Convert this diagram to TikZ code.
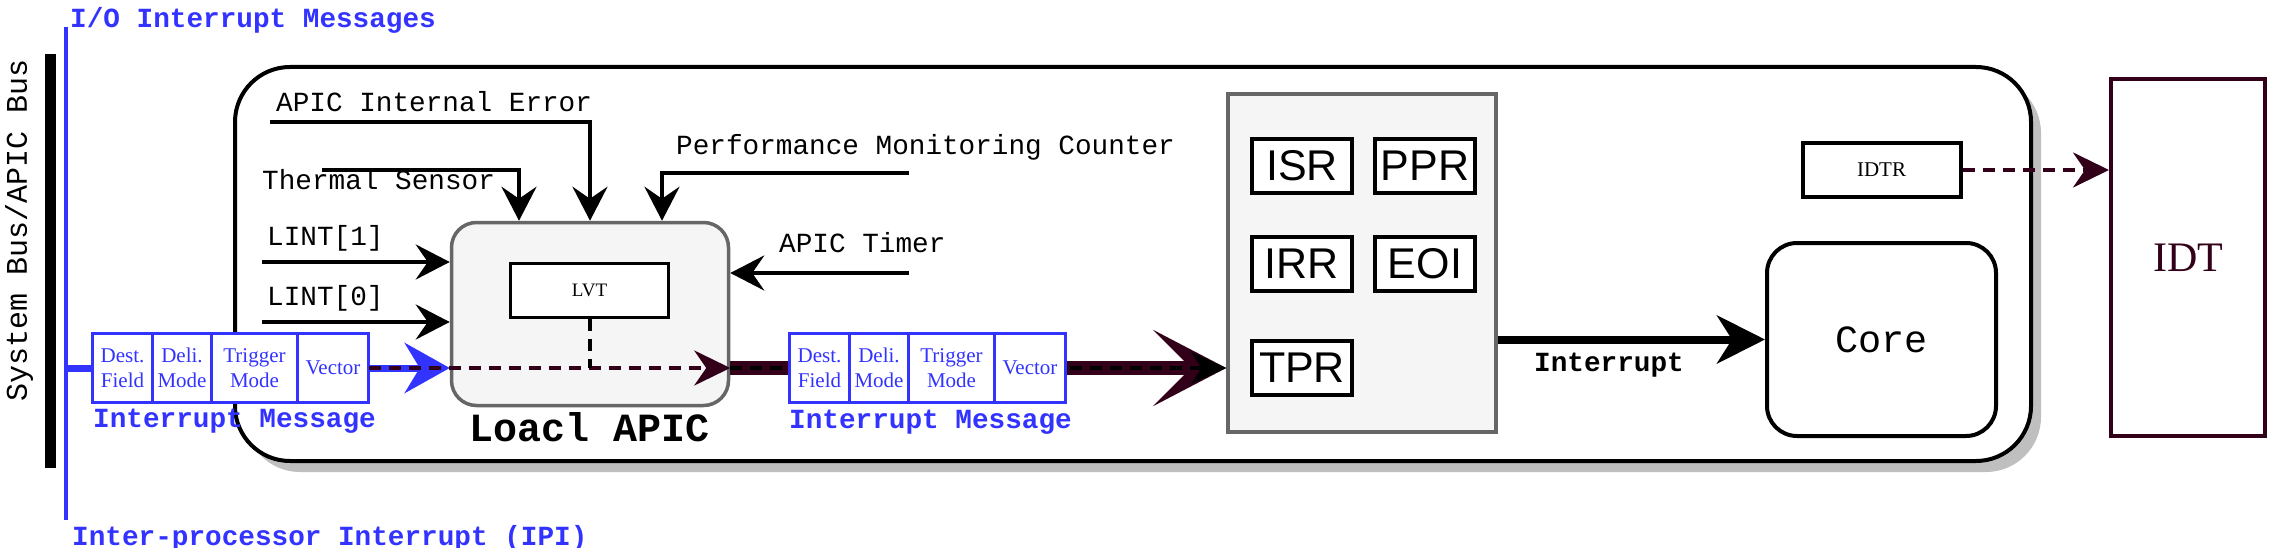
\documentclass[tikz,border=0pt]{standalone}
\usepackage{fontspec}
\setmainfont{Liberation Serif}
\setsansfont{Liberation Sans}
\setmonofont{Liberation Mono}
\usetikzlibrary{positioning}
\usetikzlibrary{arrows.meta,shadows}

\definecolor{ioblue}{RGB}{51,51,255}
\definecolor{idtred}{RGB}{51,0,26}
\definecolor{panelfill}{HTML}{F5F5F5}
\definecolor{paneledge}{HTML}{666666}
\definecolor{shadowgray}{HTML}{BFBFBF}

\tikzset{
  sig/.style={font=\ttfamily\fontsize{27.7}{30}\selectfont, inner sep=0pt, anchor=base west},
  boldlbl/.style={font=\ttfamily\bfseries\fontsize{27.7}{30}\selectfont, inner sep=0pt, anchor=base west},
  cell/.style={draw=ioblue, fill=white, line width=3pt, outer sep=0pt, inner sep=0pt, minimum height=69pt,
    text=ioblue, align=center, font=\fontsize{21}{25}\selectfont},
  reg/.style={draw, fill=white, line width=4pt, minimum width=100pt, minimum height=54pt, inner sep=0pt,
    font=\sffamily\fontsize{43}{43}\selectfont},
  inarrow/.style={line width=4pt, -{Stealth[length=34pt, width=35pt, inset=12pt]}},
  dasharrow/.style={line width=4pt, dash pattern=on 12pt off 8pt, -{Stealth[length=36pt, width=35pt, inset=12pt]}},
}

\begin{document}
\begin{tikzpicture}[x=1pt,y=-1pt]
			\useasboundingbox (0,0) rectangle (2272,548);
			
			% bus on the left
			\draw[line width=11pt] (50,54) -- (50,468);
			\node[font=\ttfamily\fontsize{30}{30}\selectfont, rotate=90, anchor=base, inner sep=0pt] (busname) at (27,230) {System Bus/APIC Bus};
			\coordinate (iotop) at (65.5,27);
			\coordinate (iobot) at (65.5,520);
			\draw[ioblue, line width=4pt] (iotop) -- (iobot);
			\node[boldlbl, text=ioblue] (iolbl) at (70,27.5) {I/O Interrupt Messages};
			\node[boldlbl, text=ioblue] (ipilbl) at (72,545) {Inter-processor Interrupt (IPI)};
			
			% processor
			\node[draw, fill=white, line width=4pt, rounded corners=55pt, minimum width=1796pt, minimum height=394pt,
			  drop shadow={shadow xshift=10pt, shadow yshift=-11pt, fill=shadowgray, opacity=1}] (cpu) at (1133,264) {};
			
			\node[draw=paneledge, fill=panelfill, line width=3.5pt, rounded corners=25pt, minimum width=277pt, minimum height=183pt] (lapic) at (590,314) {};
			\node[draw, fill=white, line width=3.5pt, minimum width=158pt, minimum height=54pt, font=\fontsize{19}{19}\selectfont] (lvt) at (589.5,290.5) {LVT};
			\node[font=\ttfamily\bfseries\fontsize{40}{40}\selectfont, inner sep=0pt] (lapiclbl) [below = 5pt of lapic] {Loacl APIC};
			
			\node[draw=paneledge, fill=panelfill, line width=3.5pt, minimum width=268pt, minimum height=338pt] (regs) at (1362,263) {};
			\node[reg] (isr) at (1302,166) {ISR};
			\node[reg] (ppr) [right = 19pt of isr] {PPR};
			\node[reg] (irr) [below = 40pt of isr] {IRR};
			\node[reg] (eoi) [right = 19pt of irr] {EOI};
			\node[reg] (tpr) [below = 46pt of irr] {TPR};
			
			\node[draw, line width=4pt, rounded corners=30pt, minimum width=229pt, minimum height=193pt, font=\ttfamily\fontsize{38.5}{40}\selectfont] (core) at (1881.5,339.5) {Core};
			\node[draw, line width=4pt, minimum width=158pt, minimum height=54pt, font=\fontsize{21}{21}\selectfont] (idtr) [above = 42pt of core] {IDTR};
			\node[draw=idtred, line width=4pt, minimum width=154pt, minimum height=357pt, text=idtred, font=\fontsize{42}{42}\selectfont] (idt) at (2188,257.5) {IDT};
			
			% local interrupt sources
			\coordinate (errin) at (270,122);
			\coordinate (thmin) at (322,170);
			\coordinate (pmcin) at (909,173);
			\coordinate (lint1in) at (262,262);
			\coordinate (lint0in) at (262,322);
			\coordinate (tmrin) at (909,273);
			\draw[inarrow] (errin) -| (lapic.north);
			\draw[inarrow] (thmin) -| ([xshift=-71pt]lapic.north);
			\draw[inarrow] (pmcin) -| ([xshift=72pt]lapic.north);
			\draw[inarrow] (lint1in) -- (lint1in -| lapic.west);
			\draw[inarrow] (lint0in) -- (lint0in -| lapic.west);
			\draw[inarrow] (tmrin) -- (tmrin -| lapic.east);
			\node[sig] (errlbl) at (276,112) {APIC Internal Error};
			\node[sig] (thmlbl) at (262,190) {Thermal Sensor};
			\node[sig] (pmclbl) at (676,155) {Performance Monitoring Counter};
			\node[sig] (lint1lbl) at (267,245) {LINT[1]};
			\node[sig] (lint0lbl) at (267,305) {LINT[0]};
			\node[sig] (tmrlbl) at (779,252) {APIC Timer};
			
			% incoming message
			\node[cell, minimum width=60pt, anchor=west] (dst1) at (92.5,368) {Dest.\\Field};
			\node[cell, minimum width=59pt] (dlv1) [right = 0pt of dst1] {Deli.\\Mode};
			\node[cell, minimum width=86pt] (trg1) [right = 0pt of dlv1] {Trigger\\Mode};
			\node[cell, minimum width=71pt] (vec1) [right = 0pt of trg1] {Vector};
			\node[boldlbl, text=ioblue] (msg1lbl) at (93,427) {Interrupt Message};
			
			\draw[ioblue, line width=7pt] (dst1.west -| iotop) -- (dst1.west);
			\draw[ioblue, line width=7pt, -{Stealth[length=45pt, width=50pt, inset=15pt]}] (vec1.east) -- (vec1.east -| lapic.west);
			\draw[idtred, dasharrow] (vec1.east) -- (vec1.east -| lapic.east);
			\draw[line width=4pt, dash pattern=on 12pt off 8pt] (lvt.south) -- (lvt.south |- vec1.east);
			
			% delivered message
			\draw[idtred, line width=14pt, -{Stealth[length=73pt, width=76pt, inset=38pt]}] (vec1.east -| lapic.east) -- (vec1.east -| regs.west);
			\draw[line width=4pt, dash pattern=on 12pt off 8pt, -{Stealth[length=35pt, width=32pt, inset=10pt]}] (vec1.east -| lapic.east) -- (vec1.east -| regs.west);
			\node[cell, minimum width=60pt, anchor=west] (dst2) at (789.5,368) {Dest.\\Field};
			\node[cell, minimum width=59pt] (dlv2) [right = 0pt of dst2] {Deli.\\Mode};
			\node[cell, minimum width=86pt] (trg2) [right = 0pt of dlv2] {Trigger\\Mode};
			\node[cell, minimum width=71pt] (vec2) [right = 0pt of trg2] {Vector};
			\node[boldlbl, text=ioblue] (msg2lbl) at (789,428) {Interrupt Message};
			
			% to the core and the IDT
			\draw[line width=8pt, -{Stealth[length=48pt, width=48pt, inset=15pt]}] (core.west -| regs.east) -- (core.west);
			\node[boldlbl] (intlbl) at (1534,371) {Interrupt};
			\draw[idtred, dasharrow] (idtr.east) -- (idtr.east -| idt.west);
			\end{tikzpicture}
\end{document}
